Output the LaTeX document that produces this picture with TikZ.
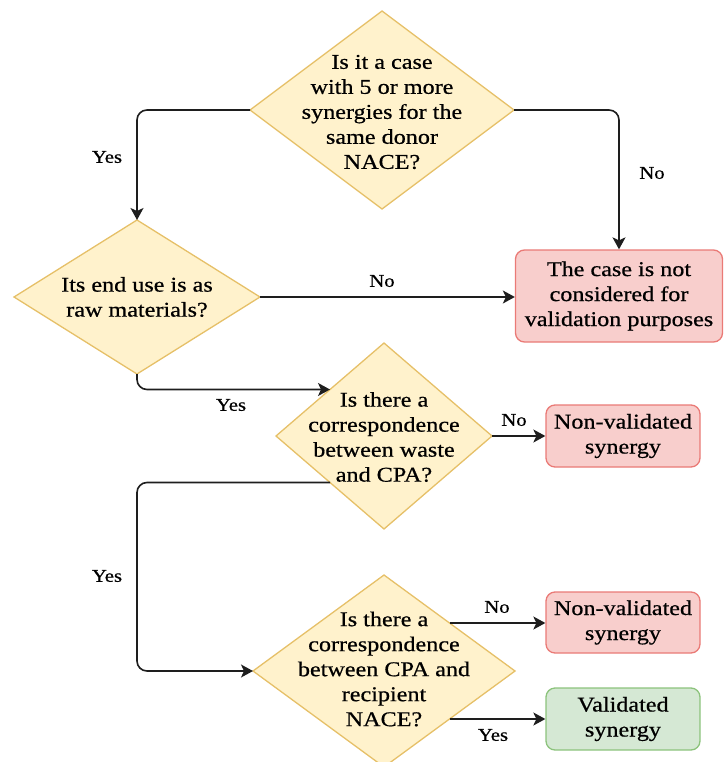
\documentclass[tikz,border=0pt]{standalone}
\usepackage{fontspec}
\setmainfont{Liberation Serif}[FakeStretch=1.15,FakeBold=0.6]
\usetikzlibrary{shapes.geometric,arrows.meta}
\definecolor{decfill}{HTML}{FFF2CC}
\definecolor{decline}{HTML}{E6C068}
\definecolor{redfill}{HTML}{F8CECC}
\definecolor{redline}{HTML}{EA7A76}
\definecolor{grnfill}{HTML}{D5E8D4}
\definecolor{grnline}{HTML}{8CC37C}
\definecolor{edgecol}{HTML}{1E1E1E}
\begin{document}
\begin{tikzpicture}[x=1pt,y=-1pt,
  dec/.style={diamond,draw=decline,fill=decfill,line width=1.3pt,inner sep=0pt,outer sep=0pt},
  txt/.style={align=center,font=\fontsize{21}{25}\selectfont,inner sep=0pt,text=black},
  redbox/.style={rectangle,rounded corners=9pt,draw=redline,fill=redfill,line width=1.3pt,align=center,font=\fontsize{21}{25}\selectfont,inner sep=0pt,text=black},
  grnbox/.style={redbox,draw=grnline,fill=grnfill},
  arr/.style={draw=edgecol,line width=1.6pt,-{Stealth[length=12pt,width=13pt,inset=3pt]},rounded corners=10pt},
  lbl/.style={font=\fontsize{18}{21}\selectfont,inner sep=0pt,text=black}
]
\useasboundingbox (0,0) rectangle (724,762);
% decisions
\node[dec,minimum width=264pt,minimum height=198pt] (d1) at (382,110) {};
\node[txt] (t1) at (382,112) {Is it a case\\with 5 or more\\synergies for the\\same donor\\NACE?};
\node[dec,minimum width=246pt,minimum height=154pt] (d2) at (137,297) {};
\node[txt] (t2) at (137,297) {Its end use is as\\raw materials?};
\node[dec,minimum width=216pt,minimum height=186pt] (d3) at (384,436) {};
\node[txt] (t3) at (384,437) {Is there a\\correspondence\\between waste\\and CPA?};
\node[dec,minimum width=262pt,minimum height=192pt] (d4) at (384,671) {};
\node[txt] (t4) at (384,669) {Is there a\\correspondence\\between CPA and\\recipient\\NACE?};
% outcomes
\node[redbox,minimum width=207pt,minimum height=92pt] (b1) at (619,296) {The case is not\\considered for\\validation purposes};
\node[redbox,minimum width=154pt,minimum height=62pt] (b2) at (623,436) {Non-validated\\synergy};
\node[redbox,minimum width=154pt,minimum height=61pt] (b3) at (623,622.5) {Non-validated\\synergy};
\node[grnbox,minimum width=154pt,minimum height=62pt] (b4) at (623,719) {Validated\\synergy};
% connectors
\draw[arr] (d1.west) -| (d2.north);
\draw[arr] (d1.east) -| (b1.north);
\draw[arr] (d2.east) -- (b1.west |- d2.east);
\draw[arr] (d2.south) |- (d3.north west);
\draw[arr] (d3.east) -- (b2.west);
\draw[arr] (d3.south west) -| (d2.south |- d4.west) -- (d4.west);
\draw[arr] (d4.north east) -- (b3.west |- d4.north east);
\draw[arr] (d4.south east) -- (b4.west |- d4.south east);
% labels
\node[lbl] (l1) at (107,157) {Yes};
\node[lbl] (l2) at (652,173) {No};
\node[lbl] (l3) at (382,281) {No};
\node[lbl] (l4) at (231,405) {Yes};
\node[lbl] (l5) at (514,420) {No};
\node[lbl] (l6) at (107,576) {Yes};
\node[lbl] (l7) at (497,607) {No};
\node[lbl] (l8) at (493,735) {Yes};
\end{tikzpicture}
\end{document}
